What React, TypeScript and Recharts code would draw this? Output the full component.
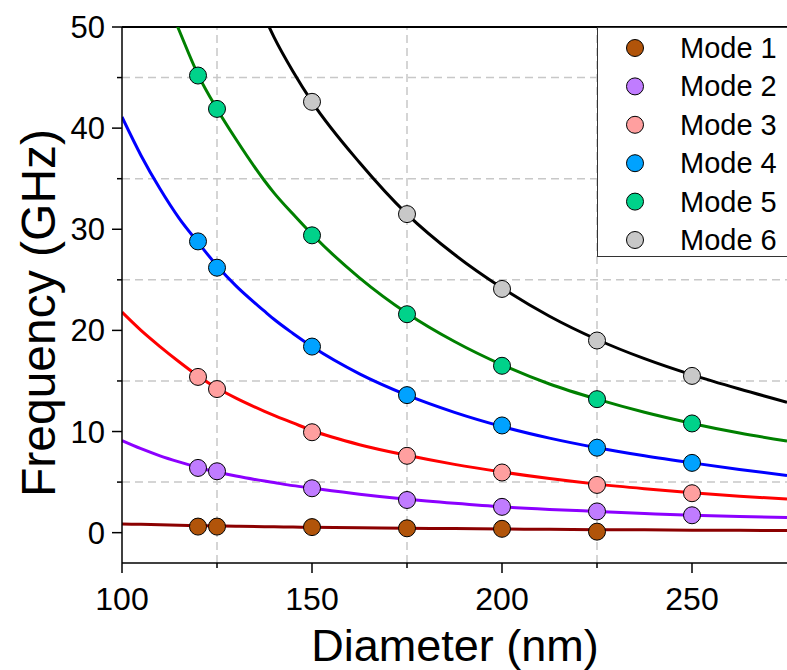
import React from "react";
import {
  ComposedChart,
  Line,
  Scatter,
  XAxis,
  YAxis,
  ReferenceLine,
} from "recharts";

// ---------- data ----------
const modeNames = ["Mode 1", "Mode 2", "Mode 3", "Mode 4", "Mode 5", "Mode 6"];
const lineColors = ["#8B0000", "#8C00FF", "#FF0000", "#0000FF", "#008000", "#000000"];
const markerColors = ["#B1540A", "#C07CFF", "#FF9F9F", "#00A2FF", "#00D28A", "#C8C8C8"];

// measured points
const pointDiameters = [120, 125, 150, 175, 200, 225, 250];
const mode1Points = [0.6, 0.6, 0.55, 0.43, 0.38, 0.1, null];
const mode2Points = [6.4, 6.07, 4.39, 3.23, 2.55, 2.1, 1.72];
const mode3Points = [15.4, 14.2, 9.93, 7.6, 5.95, 4.72, 3.9];
const mode4Points = [28.8, 26.2, 18.4, 13.6, 10.6, 8.4, 6.9];
const mode5Points = [45.2, 41.9, 29.4, 21.6, 16.5, 13.2, 10.8];
const mode6Points = [null, null, 42.6, 31.5, 24.1, 19.0, 15.5];

// fitted curves
const curveDiameters = [100, 105, 110, 115, 120, 125, 130, 137.5, 140, 145, 150, 162.5, 175, 187.5, 200, 212.5, 225, 237.5, 250, 262.5, 275];
const mode1Curve = [0.86, 0.82, 0.78, 0.74, 0.7, 0.66, 0.63, 0.59, 0.58, 0.55, 0.53, 0.48, 0.44, 0.4, 0.36, 0.33, 0.3, 0.28, 0.25, 0.23, 0.22];
const mode2Curve = [9.1, 8.3, 7.6, 7.0, 6.45, 6.0, 5.6, 5.1, 4.95, 4.65, 4.4, 3.8, 3.3, 2.9, 2.55, 2.3, 2.1, 1.9, 1.72, 1.6, 1.5];
const mode3Curve = [21.8, 20.0, 18.4, 16.9, 15.5, 14.3, 13.3, 12.0, 11.6, 10.85, 10.1, 8.7, 7.65, 6.75, 6.0, 5.35, 4.8, 4.35, 3.95, 3.6, 3.33];
const mode4Curve = [41.1, 37.3, 34.0, 31.1, 28.7, 26.4, 24.4, 21.9, 21.1, 19.7, 18.4, 15.7, 13.6, 11.9, 10.5, 9.35, 8.4, 7.6, 6.9, 6.25, 5.65];
const mode5Curve = [null, null, 54.3, 49.7, 45.3, 41.9, 38.9, 34.8, 33.6, 31.5, 29.5, 25.2, 21.7, 18.9, 16.6, 14.7, 13.2, 11.9, 10.8, 9.85, 9.05];
const mode6Curve = [null, null, null, null, null, null, null, 51.0, 49.0, 45.6, 42.6, 36.6, 31.5, 27.5, 24.2, 21.4, 19.1, 17.2, 15.6, 14.2, 12.9];

const xTicks = [100, 125, 150, 175, 200, 225, 250];
const xMajor = [100, 150, 200, 250];
const yTicks = [0, 5, 10, 15, 20, 25, 30, 35, 40, 45, 50];
const yMajor = [0, 10, 20, 30, 40, 50];
const xGrid = [125, 175, 225];
const yGrid = [5, 15, 25, 35, 45];

const allPoints = [mode1Points, mode2Points, mode3Points, mode4Points, mode5Points, mode6Points];
const allCurves = [mode1Curve, mode2Curve, mode3Curve, mode4Curve, mode5Curve, mode6Curve];

const pointData = allPoints.map((arr) =>
  pointDiameters
    .map((d, i) => ({ d, v: arr[i] }))
    .filter((p) => p.v !== null)
);
const curveData = allCurves.map((arr) =>
  curveDiameters
    .map((d, i) => ({ d, v: arr[i] }))
    .filter((p) => p.v !== null)
);

const FONT = "'Liberation Sans', Arial, sans-serif";

const XTick = (props: any) => {
  const { x, y, payload } = props;
  const major = xMajor.includes(payload.value);
  return (
    <g>
      <line x1={x} y1={y} x2={x} y2={y + (major ? 10 : 5)} stroke="#000" strokeWidth={1.5} />
      {major && (
        <text x={x} y={y + 47} textAnchor="middle" fontSize={32} fontFamily={FONT} fill="#000">
          {payload.value}
        </text>
      )}
    </g>
  );
};

const YTick = (props: any) => {
  const { x, y, payload } = props;
  const major = yMajor.includes(payload.value);
  return (
    <g>
      <line x1={x} y1={y} x2={x - (major ? 10 : 5)} y2={y} stroke="#000" strokeWidth={1.5} />
      {major && (
        <text x={x - 17} y={y + 11} textAnchor="end" fontSize={31} fontFamily={FONT} fill="#000">
          {payload.value}
        </text>
      )}
    </g>
  );
};

const YTitle = () => (
  <text
    x={30}
    y={305}
    transform="rotate(-90 30 305)"
    textAnchor="middle"
    dominantBaseline="central"
    fontSize={48}
    fontFamily={FONT}
    fill="#000"
  >
    Frequency (GHz)
  </text>
);

const XTitle = () => (
  <text x={447} y={653} textAnchor="middle" fontSize={45} fontFamily={FONT} fill="#000">
    Diameter (nm)
  </text>
);

const makeShape = (fill: string) => (props: any) => (
  <circle cx={props.cx} cy={props.cy} r={8.5} fill={fill} stroke="#000" strokeWidth={1} />
);

const Legend = () => (
  <div
    style={{
      position: "absolute",
      left: 589,
      top: 19,
      width: 220,
      height: 230,
      border: "1px solid #333",
      background: "#fff",
      boxSizing: "border-box",
    }}
  >
    <svg width={220} height={230} style={{ display: "block" }}>
      {modeNames.map((name, i) => {
        const cy = 20 + i * 38.4;
        return (
          <g key={name}>
            <circle cx={37} cy={cy} r={8.5} fill={markerColors[i]} stroke="#000" strokeWidth={1} />
            <text x={82} y={cy + 10} fontSize={29} fontFamily={FONT} fill="#000">
              {name}
            </text>
          </g>
        );
      })}
    </svg>
  </div>
);

export default function App() {
  return (
    <>
      <style>{"html,body{margin:0;padding:0;overflow:hidden;}"}</style>
      <div
        style={{
          position: "absolute",
          left: 8,
          top: 8,
          width: 779,
          height: 662,
          overflow: "hidden",
        }}
      >
        <ComposedChart
          width={779}
          height={662}
          style={{ width: 779, height: 662, maxWidth: "none" }}
          margin={{ top: 19, right: 0, bottom: 0, left: 0 }}
        >
          <XAxis
            dataKey="d"
            type="number"
            domain={[100, 275]}
            ticks={xTicks}
            allowDataOverflow
            height={107}
            axisLine={{ stroke: "#000", strokeWidth: 1.5 }}
            tickLine={false}
            tickSize={0}
            tickMargin={0}
            tick={<XTick />}
            interval={0}
            label={<XTitle />}
          />
          <YAxis
            dataKey="v"
            type="number"
            domain={[-3, 50]}
            ticks={yTicks}
            allowDataOverflow
            width={114}
            axisLine={{ stroke: "#000", strokeWidth: 1.5 }}
            tickLine={false}
            tickSize={0}
            tickMargin={0}
            tick={<YTick />}
            interval={0}
            label={<YTitle />}
          />
          {yGrid.map((v) => (
            <ReferenceLine key={"y" + v} y={v} stroke="#C8C8C8" strokeWidth={1.5} strokeDasharray="8 5" />
          ))}
          {xGrid.map((v) => (
            <ReferenceLine key={"x" + v} x={v} stroke="#C8C8C8" strokeWidth={1.5} strokeDasharray="8 5" />
          ))}
          <ReferenceLine y={50} stroke="#000" strokeWidth={2} />
          {curveData.map((data, i) => (
            <Line
              key={"c" + i}
              data={data}
              dataKey="v"
              type="monotone"
              stroke={lineColors[i]}
              strokeWidth={3}
              dot={false}
              activeDot={false}
              isAnimationActive={false}
              legendType="none"
            />
          ))}
          {pointData.map((data, i) => (
            <Scatter
              key={"p" + i}
              name={modeNames[i]}
              data={data}
              dataKey="v"
              fill={markerColors[i]}
              shape={makeShape(markerColors[i])}
              isAnimationActive={false}
            />
          ))}
        </ComposedChart>
        <Legend />
      </div>
    </>
  );
}
